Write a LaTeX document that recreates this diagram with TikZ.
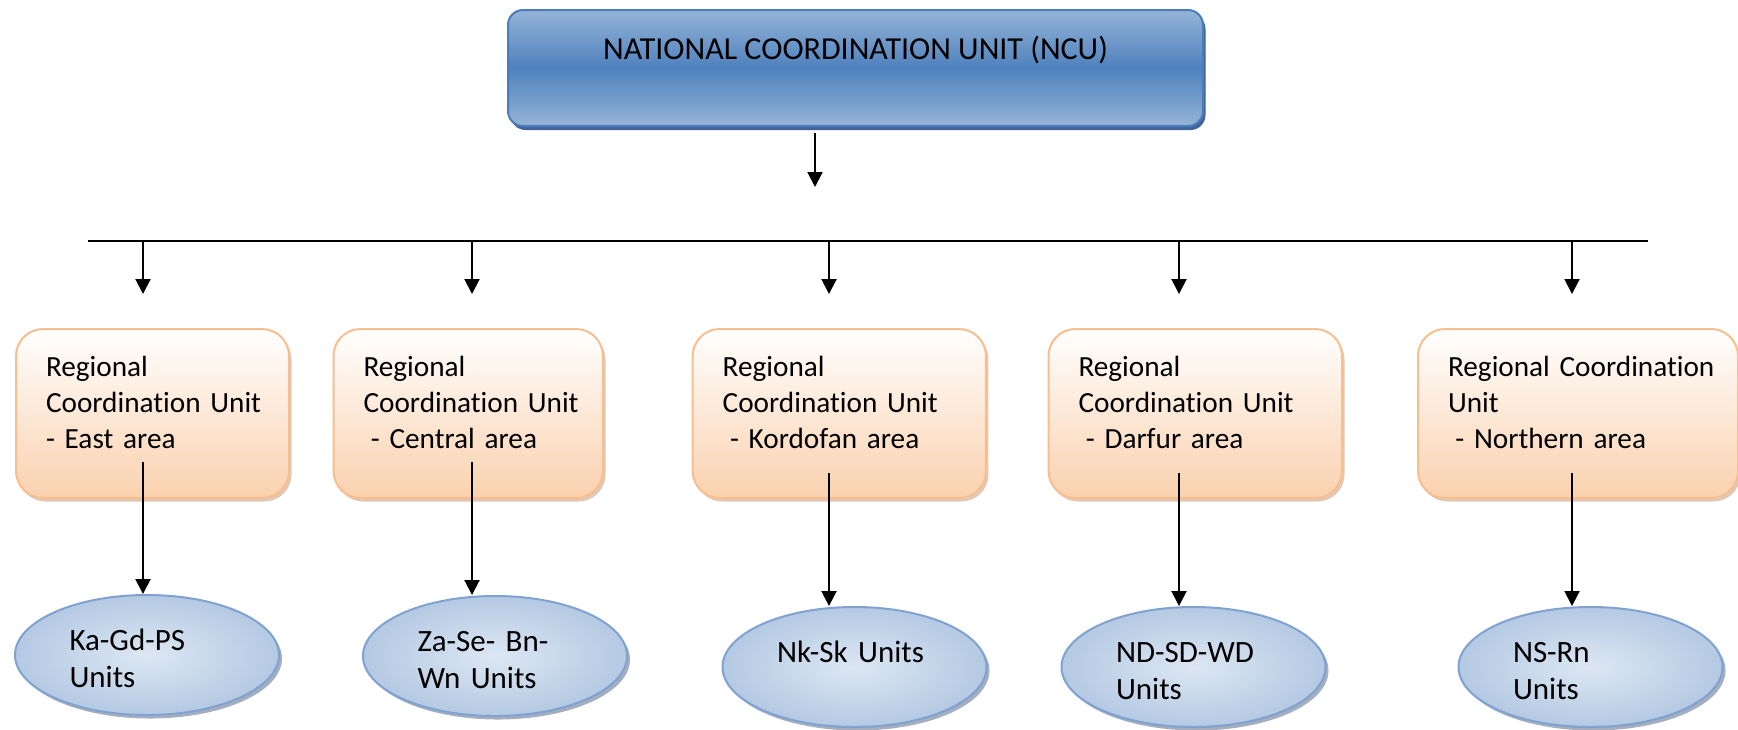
\documentclass[tikz,border=0pt]{standalone}
\usepackage{fontspec}
\setmainfont[Ligatures=CommonOff]{Carlito}
\usetikzlibrary{arrows.meta,shapes.geometric,shadows}

\definecolor{ncuBlue}{HTML}{4F81BD}
\definecolor{ncuLight}{HTML}{95B3D7}
\definecolor{ncuEdge}{HTML}{4A7EBB}
\definecolor{ncuShade}{HTML}{2F528F}
\definecolor{rcuPeach}{HTML}{FAD1AE}
\definecolor{rcuEdge}{HTML}{F9BE8E}
\definecolor{rcuShade}{HTML}{C9A385}
\definecolor{unitInner}{HTML}{DDE7F3}
\definecolor{unitOuter}{HTML}{B4C9E3}
\definecolor{unitEdge}{HTML}{7FA2D0}
\definecolor{unitShade}{HTML}{7D8CA3}

\begin{document}
\begin{tikzpicture}[x=.4pt,y=-.4pt,
  arr/.style={-{Triangle[length=6pt,width=6pt]},line width=.8pt},
  ncubox/.style={draw=ncuEdge,line width=.8pt,rounded corners=6pt,top color=ncuLight,bottom color=ncuLight,middle color=ncuBlue,
    anchor=north,minimum width=278pt,inner ysep=0pt,text height=19.6pt,text depth=26.8pt,font=\fontsize{12.8}{15}\selectfont,
    drop shadow={shadow xshift=1pt,shadow yshift=-1.6pt,fill=ncuShade,opacity=.9}},
  rcubox/.style={draw=rcuEdge,line width=.8pt,rounded corners=10.8pt,top color=white,bottom color=rcuPeach,
    anchor=north west,align=left,inner xsep=12pt,inner ysep=0pt,text height=18.8pt,text depth=48.8pt,text width=#1,
    font=\fontsize{11.7}{14.4}\selectfont,drop shadow={shadow xshift=1pt,shadow yshift=-1.4pt,fill=rcuShade,opacity=.6}},
  unitell/.style={ellipse,draw=unitEdge,line width=.8pt,inner color=unitInner,outer color=unitOuter,
    minimum width=105.6pt,minimum height=48pt,inner sep=0pt,align=left,text width=62pt,text height=10pt,text depth=13.6pt,
    font=\fontsize{12.4}{14.8}\selectfont,drop shadow={shadow xshift=1.2pt,shadow yshift=-1.4pt,fill=unitShade,opacity=.7}}]
\useasboundingbox (0,0) rectangle (1738,729);

% national unit
\node[ncubox] (ncu) at (855.5,9) {NATIONAL COORDINATION UNIT (NCU)};
\coordinate (ncu-a) at (815,133);
\coordinate (ncu-b) at (815,187);
\draw[arr] (ncu-a) -- (ncu-b);

% distribution bar
\coordinate (bus-w) at (88,241);
\coordinate (bus-e) at (1648,241);
\draw[line width=.7pt] (bus-w) -- (bus-e);

% regional units
\node[rcubox=85.2pt] (rcu1) at (15,328) {Regional\\\mbox{Coordination Unit}\\- East area};
\node[rcubox=83.8pt] (rcu2) at (332.5,328) {Regional\\\mbox{Coordination Unit}\\\hspace*{.25em}- Central area};
\node[rcubox=93.3pt] (rcu3) at (691.7,328) {Regional\\\mbox{Coordination Unit}\\\hspace*{.25em}- Kordofan area};
\node[rcubox=93.4pt] (rcu4) at (1047.5,328) {Regional\\\mbox{Coordination Unit}\\\hspace*{.25em}- Darfur area};
\node[rcubox=104pt] (rcu5) at (1417,328) {\mbox{Regional Coordination}\\Unit\\\hspace*{.25em}- Northern area};

\coordinate (d1) at (143,294);
\coordinate (d2) at (472,294);
\coordinate (d3) at (829,294);
\coordinate (d4) at (1179,294);
\coordinate (d5) at (1572,294);
\draw[arr] (d1 |- bus-w) -- (d1);
\draw[arr] (d2 |- bus-w) -- (d2);
\draw[arr] (d3 |- bus-w) -- (d3);
\draw[arr] (d4 |- bus-w) -- (d4);
\draw[arr] (d5 |- bus-w) -- (d5);

% local units
\node[unitell] (u1) at (147,655) {Ka-Gd-PS\\Units};
\node[unitell] (u2) at (495,656) {\mbox{Za-Se- Bn-}\\\mbox{Wn Units}};
\node[unitell] (u3) at (854.5,667) {\mbox{Nk-Sk Units}};
\node[unitell] (u4) at (1193.5,667) {ND-SD-WD\\Units};
\node[unitell] (u5) at (1590.5,667) {NS-Rn\\Units};

\coordinate (s1) at (143,462);
\coordinate (s2) at (472,462);
\coordinate (s3) at (829,473);
\coordinate (s4) at (1179,473);
\coordinate (s5) at (1572,473);
\draw[arr] (s1) -- (s1 |- u1.north);
\draw[arr] (s2) -- (s2 |- u2.north);
\draw[arr] (s3) -- (s3 |- u3.north);
\draw[arr] (s4) -- (s4 |- u4.north);
\draw[arr] (s5) -- (s5 |- u5.north);
\end{tikzpicture}
\end{document}
